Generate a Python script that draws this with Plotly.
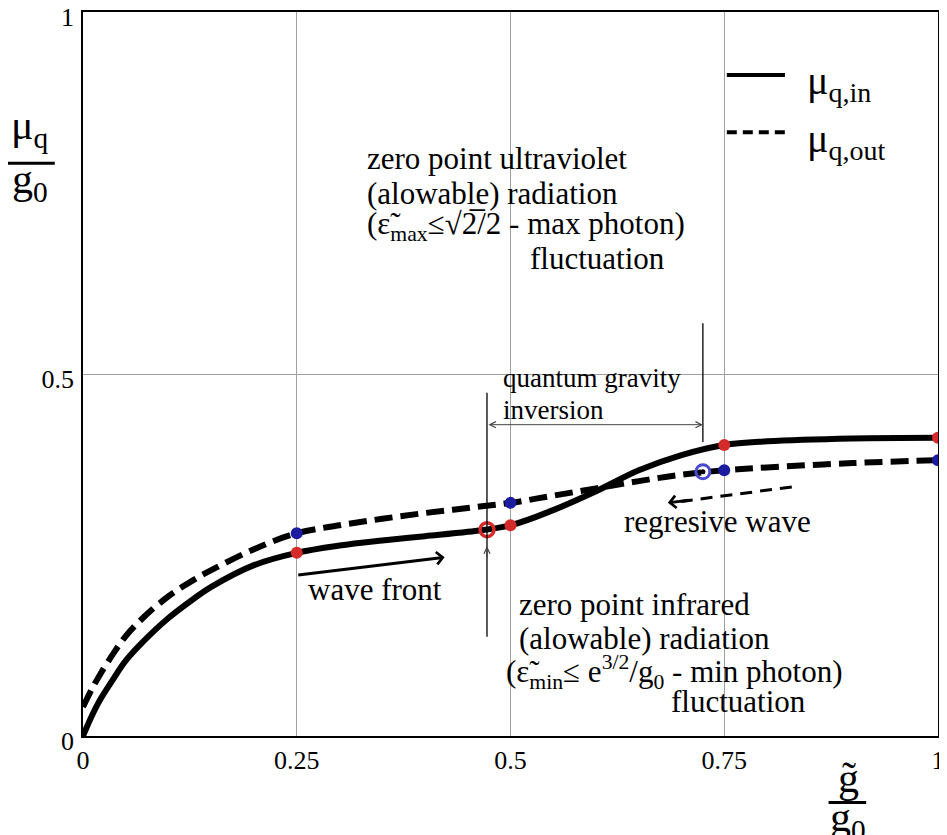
import plotly.graph_objects as go

# ---------------- data ----------------
x_curve = [0, 0.01, 0.02, 0.035, 0.05, 0.07, 0.1, 0.13, 0.15, 0.2, 0.25, 0.3, 0.35, 0.4, 0.45, 0.5,
           0.55, 0.6, 0.65, 0.7, 0.75, 0.8, 0.9, 1.0]
mu_in = [0, 0.027, 0.05, 0.078, 0.104, 0.130, 0.163, 0.190, 0.206, 0.236, 0.253, 0.263, 0.270, 0.276,
         0.282, 0.291, 0.312, 0.338, 0.367, 0.388, 0.402, 0.407, 0.411, 0.412]
mu_out = [0.04, 0.064, 0.085, 0.113, 0.138, 0.163, 0.193, 0.216, 0.229, 0.258, 0.280, 0.291, 0.300,
          0.308, 0.315, 0.322, 0.332, 0.342, 0.352, 0.361, 0.367, 0.371, 0.377, 0.381]

red_x = [0.25, 0.5, 0.75, 1.0]
red_y = [0.253, 0.291, 0.402, 0.412]
blue_x = [0.25, 0.5, 0.75, 1.0]
blue_y = [0.280, 0.322, 0.367, 0.381]
ring_red = (0.4725, 0.285)
ring_blue = (0.725, 0.365)

x_ticks = [0, 0.25, 0.5, 0.75, 1]
x_tick_labels = ["0", "0.25", "0.5", "0.75", "1"]
y_ticks = [0, 0.5, 1]
y_tick_labels = ["0", "0.5", "1"]

SERIF = "Liberation Serif"
RED = "#d42a2a"
BLUE = "#1c1ca0"

fig = go.Figure()
fig.add_trace(go.Scatter(x=x_curve, y=mu_in, mode="lines", line=dict(color="black", width=6, shape="spline"),
                         showlegend=False, hoverinfo="skip"))
fig.add_trace(go.Scatter(x=x_curve, y=mu_out, mode="lines",
                         line=dict(color="black", width=6, shape="spline", dash="18px,8px"),
                         showlegend=False, hoverinfo="skip"))
fig.add_trace(go.Scatter(x=red_x, y=red_y, mode="markers", marker=dict(color=RED, size=12),
                         showlegend=False))
fig.add_trace(go.Scatter(x=blue_x, y=blue_y, mode="markers", marker=dict(color=BLUE, size=12),
                         showlegend=False))
fig.add_trace(go.Scatter(x=[ring_red[0]], y=[ring_red[1]], mode="markers",
                         marker=dict(symbol="circle-open", color=RED, size=14, line=dict(width=3.5)),
                         showlegend=False))
fig.add_trace(go.Scatter(x=[ring_blue[0]], y=[ring_blue[1]], mode="markers",
                         marker=dict(symbol="circle-open", color="#4a4ad0", size=14, line=dict(width=3)),
                         showlegend=False))
fig.add_trace(go.Scatter(x=[ring_red[0], ring_blue[0]], y=[ring_red[1], ring_blue[1]], mode="markers",
                         marker=dict(color="black", size=5), showlegend=False))

# ---------------- annotations ----------------
def txt(x, y, t, size=31, xref="x", yref="y"):
    fig.add_annotation(x=x, y=y, xref=xref, yref=yref, text=t, showarrow=False,
                       xanchor="left", yanchor="middle", font=dict(family=SERIF, size=size, color="black"))

txt(0.330, 0.798, "zero point ultraviolet")
txt(0.330, 0.750, "(alowable) radiation")
txt(0.330, 0.704, "(ε̃<sub>max</sub>≤√2̅/2 - max photon)")
txt(0.521, 0.660, "fluctuation")

txt(0.489, 0.494, "quantum gravity", size=27)
txt(0.489, 0.450, "inversion", size=27)

txt(0.508, 0.181, "zero point infrared")
txt(0.508, 0.135, "(alowable) radiation")
txt(0.492, 0.088, "(ε̃<sub>min</sub>≤ e<sup>3/2</sup>/g<sub>0</sub> - min photon)")
txt(0.685, 0.047, "fluctuation")

txt(0.261, 0.202, "wave front")
txt(0.630, 0.296, "regresive wave")

# wave front arrow
fig.add_annotation(x=0.423, y=0.247, ax=0.250, ay=0.222, xref="x", yref="y", axref="x", ayref="y",
                   text="", showarrow=True, arrowhead=4, arrowsize=0.8, arrowwidth=3, arrowcolor="black")
# regresive wave dashed arrow
fig.add_shape(type="line", x0=0.829, y0=0.344, x1=0.70, y1=0.324, xref="x", yref="y",
              line=dict(color="black", width=3, dash="12px,8px"))
fig.add_annotation(x=0.684, y=0.322, ax=0.71, ay=0.326, xref="x", yref="y", axref="x", ayref="y",
                   text="", showarrow=True, arrowhead=4, arrowsize=0.8, arrowwidth=3, arrowcolor="black")

# vertical marker lines and double arrow
fig.add_shape(type="line", x0=0.4725, x1=0.4725, y0=0.137, y1=0.474, xref="x", yref="y",
              line=dict(color="black", width=1.3))
fig.add_shape(type="line", x0=0.725, x1=0.725, y0=0.406, y1=0.570, xref="x", yref="y",
              line=dict(color="black", width=1.3))
fig.add_annotation(x=0.725, y=0.430, ax=0.4725, ay=0.430, xref="x", yref="y", axref="x", ayref="y",
                   text="", showarrow=True, arrowhead=5, startarrowhead=5, arrowside="end+start",
                   arrowsize=1.2, arrowwidth=1, arrowcolor="#444")
fig.add_annotation(x=0.4725, y=0.262, ax=0.4725, ay=0.245, xref="x", yref="y", axref="x", ayref="y",
                   text="", showarrow=True, arrowhead=5, arrowsize=1.2, arrowwidth=1, arrowcolor="#444")

# legend (drawn)
fig.add_shape(type="line", x0=0.753, x1=0.821, y0=0.913, y1=0.913, xref="paper", yref="paper",
              line=dict(color="black", width=4))
fig.add_shape(type="line", x0=0.753, x1=0.824, y0=0.834, y1=0.834, xref="paper", yref="paper",
              line=dict(color="black", width=4, dash="10px,6px"))
txt(0.845, 0.902, "μ<sub>q,in</sub>", size=40, xref="paper", yref="paper")
txt(0.845, 0.822, "μ<sub>q,out</sub>", size=40, xref="paper", yref="paper")

# axis titles as fractions
PX = 1.0 / 724  # one pixel in paper-y units
def frac(xc, y_bar, num, den, x0, x1, num_gap, den_gap, size=42):
    fig.add_annotation(x=xc, y=y_bar + num_gap * PX, xref="paper", yref="paper", text=num, showarrow=False,
                       xanchor="center", yanchor="bottom", borderpad=0,
                       font=dict(family=SERIF, size=size, color="black"))
    fig.add_annotation(x=xc, y=y_bar + den_gap * PX, xref="paper", yref="paper", text=den, showarrow=False,
                       xanchor="center", yanchor="top", borderpad=0,
                       font=dict(family=SERIF, size=size, color="black"))
    fig.add_shape(type="line", x0=x0, x1=x1, y0=y_bar, y1=y_bar, xref="paper", yref="paper",
                  line=dict(color="black", width=3))

frac(-0.062, 0.791, "μ<sub>q</sub>", "g<sub>0</sub>", -0.091, -0.033, 8, 8)
frac(0.895, -0.092, "g̃", "g<sub>0</sub>", 0.872, 0.916, 1, 10)

fig.update_layout(
    width=939, height=827,
    margin=dict(l=75, r=9, t=4, b=99, autoexpand=False),
    plot_bgcolor="white", paper_bgcolor="white",
    font=dict(family=SERIF, size=26, color="black"),
    xaxis=dict(range=[0, 1], tickvals=x_ticks, ticktext=x_tick_labels, showgrid=True,
               gridcolor="#a0a0a0", gridwidth=1, showline=True, linecolor="black", linewidth=1.5,
               mirror=True, zeroline=False, ticks="", ticklabelstandoff=0, automargin=False,
               ticklabeloverflow="allow", tickfont=dict(family=SERIF, size=26)),
    yaxis=dict(range=[0, 1], tickvals=y_ticks, ticktext=y_tick_labels, showgrid=True,
               gridcolor="#a0a0a0", gridwidth=1, showline=True, linecolor="black", linewidth=1.5,
               mirror=True, zeroline=False, ticks="", ticklabelstandoff=2, ticklabelshift=5,
               automargin=False, ticklabeloverflow="allow", tickfont=dict(family=SERIF, size=26)),
)

fig.write_html("out.html")
